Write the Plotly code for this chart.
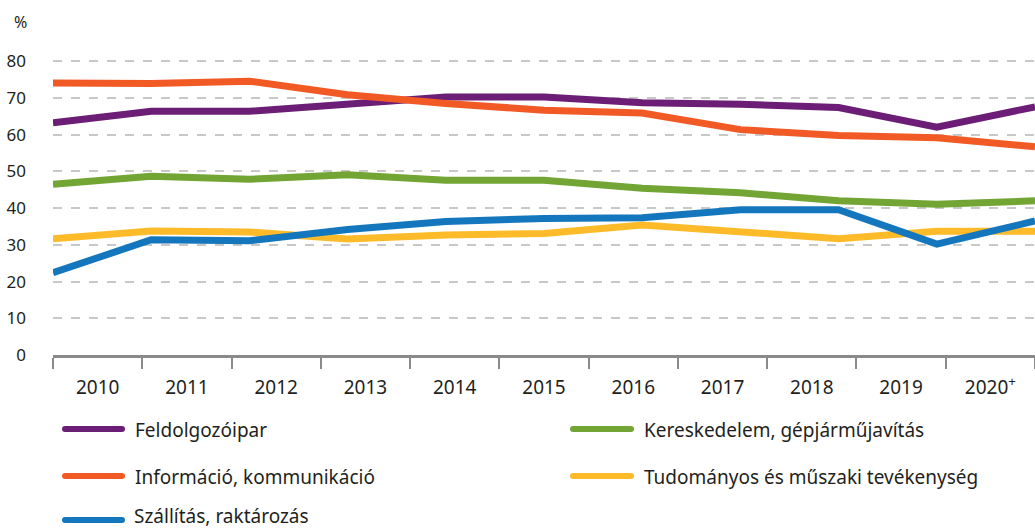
import plotly.graph_objects as go

# ---- data ----
years = ["2010", "2011", "2012", "2013", "2014", "2015", "2016", "2017", "2018", "2019", "2020<sup>+</sup>"]
y_ticks = [0, 10, 20, 30, 40, 50, 60, 70, 80]

series_names = [
    "Feldolgozóipar",
    "Kereskedelem, gépjárműjavítás",
    "Információ, kommunikáció",
    "Tudományos és műszaki tevékenység",
    "Szállítás, raktározás",
]
feldolgozoipar = [63.3, 66.4, 66.4, 68.3, 70.3, 70.3, 68.7, 68.3, 67.4, 62.1, 67.6]
kereskedelem = [46.5, 48.7, 47.9, 49.1, 47.6, 47.6, 45.4, 44.2, 42.0, 41.1, 42.0]
informacio = [74.1, 74.0, 74.6, 70.9, 68.5, 66.7, 65.9, 61.4, 59.8, 59.2, 56.7]
tudomanyos = [31.7, 33.8, 33.5, 31.6, 32.7, 33.1, 35.4, 33.6, 31.7, 33.7, 33.7]
szallitas = [22.4, 31.4, 31.1, 34.2, 36.4, 37.2, 37.4, 39.6, 39.6, 30.2, 36.5]

series_values = [feldolgozoipar, kereskedelem, informacio, tudomanyos, szallitas]
colors = ["#6c1d75", "#72a534", "#f15a24", "#fdbb2a", "#1477bd"]

# ---- layout geometry (pixels) ----
W, H = 1035, 530
ML, MR, MT, MB = 53, 0, 43, 175
PW = W - ML - MR
PH = H - MT - MB
FONT = "Noto Sans"
TXT = "#231f20"


def px_x(x):
    return (x - ML) / PW


def px_y(y):
    return (H - MB - y) / PH


fig = go.Figure()
xs = list(range(len(years)))
for name, vals, col in zip(series_names, series_values, colors):
    fig.add_trace(go.Scatter(
        x=xs, y=vals, mode="lines", name=name,
        line=dict(color=col, width=7),
        showlegend=False, hoverinfo="name+y",
        xaxis="x", yaxis="y",
    ))

# helper trace on category axis so the year labels exist
fig.add_trace(go.Scatter(
    x=years, y=[None] * len(years), mode="lines", showlegend=False,
    hoverinfo="skip", xaxis="x2", yaxis="y",
))

fig.update_layout(
    width=W, height=H,
    margin=dict(l=ML, r=MR, t=MT, b=MB, autoexpand=False),
    paper_bgcolor="white", plot_bgcolor="white",
    font=dict(family=FONT, color=TXT),
    xaxis=dict(
        type="linear", range=[0, len(years) - 1],
        showgrid=False, zeroline=False, showline=False,
        showticklabels=False, ticks="",
    ),
    xaxis2=dict(
        type="category", overlaying="x", anchor="y", side="bottom",
        categoryorder="array", categoryarray=years,
        range=[-0.5, len(years) - 0.5],
        tickson="boundaries", ticks="outside", ticklen=11, tickwidth=2,
        tickcolor="#8a8a8a",
        showline=True, linecolor="#8a8a8a", linewidth=2.5,
        showgrid=False, zeroline=False,
        tickfont=dict(size=19, color=TXT, family=FONT),
        ticklabelstandoff=13,
    ),
    yaxis=dict(
        range=[0, 85], tickvals=y_ticks,
        showgrid=True, gridcolor="#c8c8c8", gridwidth=1.5, griddash="dash",
        zeroline=False, showline=False, ticks="",
        tickfont=dict(size=17, color=TXT, family=FONT),
        ticklabelstandoff=26,
    ),
)

# "%" unit label
fig.add_annotation(
    x=px_x(20), y=px_y(22), xref="paper", yref="paper",
    text="%", showarrow=False, xanchor="center", yanchor="middle",
    font=dict(size=16, color=TXT, family=FONT),
)

# manual legend (two columns)
legend_pos = [
    (65, 122, 133, 429),
    (573, 631, 642, 429),
    (65, 122, 133, 476),
    (573, 631, 642, 476),
    (65, 122, 133, 520),
]
for (x0, x1, tx, ty), name, col in zip(legend_pos, series_names, colors):
    fig.add_shape(type="line", xref="paper", yref="paper",
                  x0=px_x(x0), x1=px_x(x1), y0=px_y(ty), y1=px_y(ty),
                  line=dict(color=col, width=6))
    for xe in (x0, x1):
        fig.add_shape(type="circle", xref="paper", yref="paper",
                      xsizemode="pixel", ysizemode="pixel",
                      xanchor=px_x(xe), yanchor=px_y(ty),
                      x0=-3, x1=3, y0=-3, y1=3,
                      fillcolor=col, line=dict(width=0))
    if ty + 14 > H:
        # keep the last row's text box inside the page
        fig.add_annotation(
            x=px_x(tx), y=px_y(H), xref="paper", yref="paper",
            text=name, showarrow=False, xanchor="left", yanchor="bottom",
            borderpad=0,
            font=dict(size=19, color=TXT, family=FONT),
        )
    else:
        fig.add_annotation(
            x=px_x(tx), y=px_y(ty + 1), xref="paper", yref="paper",
            text=name, showarrow=False, xanchor="left", yanchor="middle",
            font=dict(size=19, color=TXT, family=FONT),
        )

fig.write_html(
    "out.html",
    config={"displayModeBar": False},
    post_script="document.body.style.margin='0';document.body.style.overflow='hidden';",
)
